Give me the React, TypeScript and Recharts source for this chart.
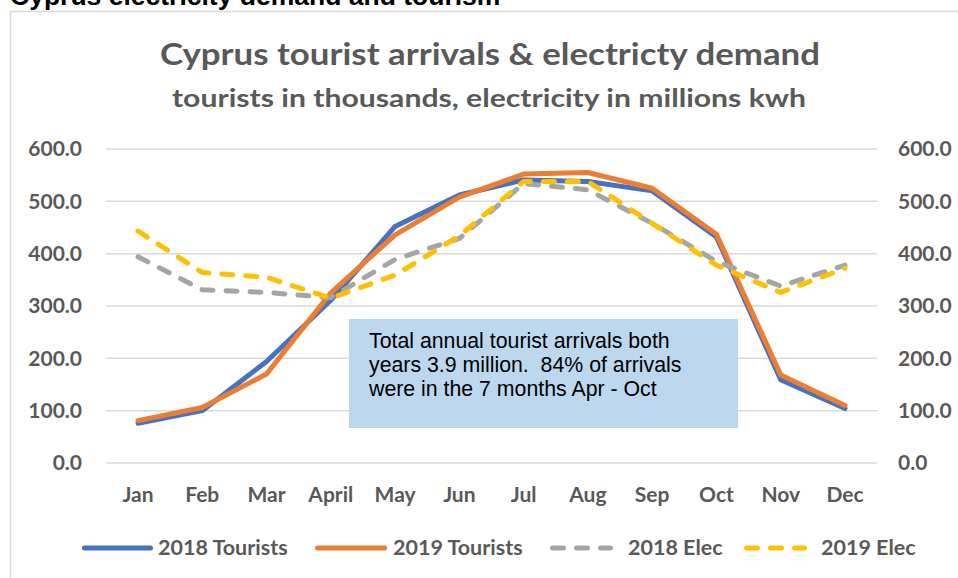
import React from 'react'
import { LineChart, Line, XAxis, YAxis, CartesianGrid } from 'recharts'

const months = ['Jan', 'Feb', 'Mar', 'April', 'May', 'Jun', 'Jul', 'Aug', 'Sep', 'Oct', 'Nov', 'Dec']
const tourists2018 = [76, 100, 194, 311, 452, 512, 541, 538, 520, 432, 159, 104]
const tourists2019 = [81, 106, 170, 325, 436, 508, 552, 555, 525, 437, 168, 110]
const elec2018 = [394, 331, 326, 316, 389, 429, 534, 522, 458, 385, 338, 378]
const elec2019 = [443, 364, 355, 315, 359, 434, 538, 538, 458, 378, 326, 372]
const yTicks = [0, 100, 200, 300, 400, 500, 600]

const COLORS = {
  t2018: '#4472C4',
  t2019: '#ED7D31',
  e2018: '#A5A5A5',
  e2019: '#FFC000'
}

const FONT = 'Lato, "Open Sans", sans-serif'
const GREY = '#595959'

const data = months.map((m, i) => ({
  month: m,
  t2018: tourists2018[i],
  t2019: tourists2019[i],
  e2018: elec2018[i],
  e2019: elec2019[i]
}))

const tickStyle = { fill: GREY, fontFamily: FONT, fontWeight: 700, fontSize: 21 }

// legend entries, x positions
const legendItems = [
  { label: '2018 Tourists', color: COLORS.t2018, dashed: false, x1: 82, x2: 153, tx: 158 },
  { label: '2019 Tourists', color: COLORS.t2019, dashed: false, x1: 315, x2: 387, tx: 393 },
  { label: '2018 Elec', color: COLORS.e2018, dashed: true, x1: 550, x2: 613, tx: 628 },
  { label: '2019 Elec', color: COLORS.e2019, dashed: true, x1: 744, x2: 807, tx: 821 }
]

export default function App() {
  return (
    <div
      style={{
        position: 'fixed',
        left: 0,
        top: 0,
        width: 958,
        height: 578,
        overflow: 'hidden',
        background: '#fff'
      }}
    >
      <LineChart
        width={958}
        height={578}
        data={data}
        margin={{ top: 149, right: 0, bottom: 0, left: 0 }}
      >
        <CartesianGrid vertical={false} stroke="#D9D9D9" strokeWidth={1.5} yAxisId="left" />
        <XAxis
          dataKey="month"
          height={115}
          padding={{ left: 32, right: 32 }}
          axisLine={false}
          tickLine={false}
          tickSize={0}
          tickMargin={24}
          interval={0}
          tick={tickStyle}
        />
        <YAxis
          yAxisId="left"
          width={106}
          domain={[0, 600]}
          ticks={yTicks}
          axisLine={false}
          tickLine={false}
          tickSize={0}
          tickMargin={24}
          tick={tickStyle}
          tickFormatter={(v: number) => v.toFixed(1)}
        />
        <YAxis
          yAxisId="right"
          orientation="right"
          width={81}
          domain={[0, 600]}
          ticks={yTicks}
          axisLine={false}
          tickLine={false}
          tickSize={0}
          tickMargin={21}
          tick={tickStyle}
          tickFormatter={(v: number) => v.toFixed(1)}
        />
        <Line yAxisId="left" dataKey="t2018" stroke={COLORS.t2018} strokeWidth={5} dot={false} activeDot={false} strokeLinecap="round" strokeLinejoin="round" isAnimationActive={false} />
        <Line yAxisId="left" dataKey="t2019" stroke={COLORS.t2019} strokeWidth={5} dot={false} activeDot={false} strokeLinecap="round" strokeLinejoin="round" isAnimationActive={false} />
        <Line yAxisId="right" dataKey="e2018" stroke={COLORS.e2018} strokeWidth={5} strokeDasharray="11 13" dot={false} activeDot={false} strokeLinecap="round" strokeLinejoin="round" isAnimationActive={false} />
        <Line yAxisId="right" dataKey="e2019" stroke={COLORS.e2019} strokeWidth={5} strokeDasharray="11 13" dot={false} activeDot={false} strokeLinecap="round" strokeLinejoin="round" isAnimationActive={false} />
      </LineChart>

      {/* titles, frame, legend */}
      <svg
        width={958}
        height={578}
        style={{ position: 'absolute', left: 0, top: 0, pointerEvents: 'none' }}
      >
        <rect x={10.5} y={11.5} width={1000} height={1000} fill="none" stroke="#D9D9D9" strokeWidth={1.5} />
        <text x={10} y={5} fontFamily='"Liberation Sans", Arial, sans-serif' fontWeight={700} fontSize={26.5} fill="#000">
          Cyprus electricity demand and tourism
        </text>
        <text
          x={160}
          y={65}
          textLength={660}
          lengthAdjust="spacingAndGlyphs"
          fontFamily={FONT}
          fontWeight={700}
          fontSize={31}
          fill={GREY}
        >
          Cyprus tourist arrivals &amp; electricty demand
        </text>
        <text
          x={172}
          y={107}
          textLength={634}
          lengthAdjust="spacingAndGlyphs"
          fontFamily={FONT}
          fontWeight={700}
          fontSize={25}
          fill={GREY}
        >
          tourists in thousands, electricity in millions kwh
        </text>
        {legendItems.map((it) => (
          <g key={it.label}>
            <line
              x1={it.x1 + 2.5}
              x2={it.x2 - 2.5}
              y1={548}
              y2={548}
              stroke={it.color}
              strokeWidth={5}
              strokeLinecap="round"
              strokeDasharray={it.dashed ? '11 13' : undefined}
            />
            <text x={it.tx} y={555} fontFamily={FONT} fontWeight={700} fontSize={21.5} fill={GREY}>
              {it.label}
            </text>
          </g>
        ))}
      </svg>

      <div
        style={{
          position: 'absolute',
          left: 349,
          top: 319,
          width: 389,
          height: 109,
          boxSizing: 'border-box',
          background: '#BDD7EE',
          padding: '10px 0 0 20px',
          fontFamily: '"Liberation Sans", Arial, sans-serif',
          fontSize: 21.3,
          lineHeight: '24px',
          color: '#000',
          whiteSpace: 'pre'
        }}
      >
        {'Total annual tourist arrivals both\nyears 3.9 million.  84% of arrivals\nwere in the 7 months Apr - Oct'}
      </div>
    </div>
  )
}
